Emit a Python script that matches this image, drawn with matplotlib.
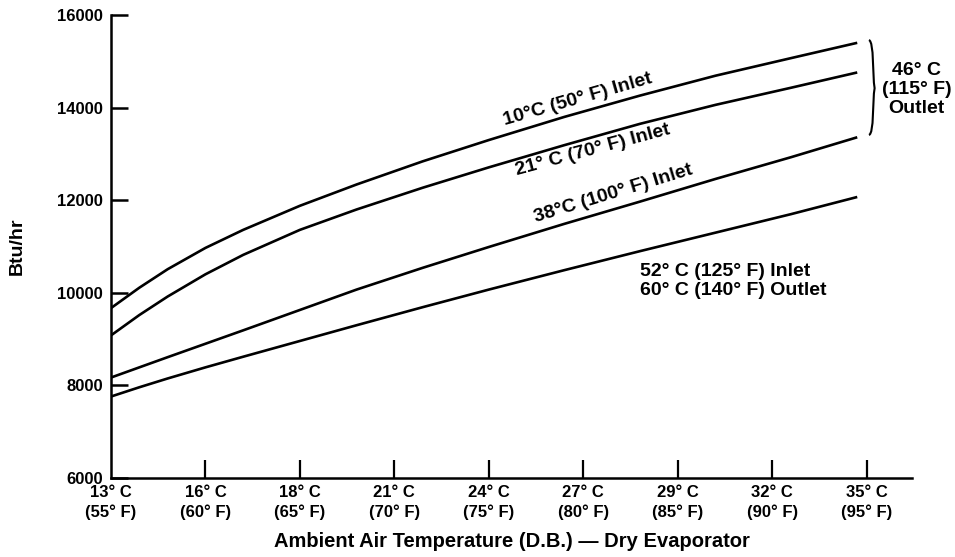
import matplotlib
matplotlib.use('Agg')
import matplotlib.pyplot as plt
from matplotlib.path import Path
import matplotlib.patches as mpatches

plt.rcParams['font.family'] = ['Liberation Sans', 'DejaVu Sans']
plt.rcParams['font.weight'] = 'bold'

# ambient temperature, deg F
temp_f = [55, 56.5, 58, 60, 62, 65, 68, 71.5, 75, 79, 83, 87, 91, 94.5]

# Btu/hr for each inlet condition
inlet_10c = [9670, 10110, 10510, 10970, 11360, 11880, 12340, 12840, 13300, 13800, 14260, 14690, 15070, 15400]
inlet_21c = [9080, 9520, 9920, 10400, 10820, 11360, 11800, 12270, 12710, 13190, 13650, 14060, 14430, 14760]
inlet_38c = [8170, 8390, 8610, 8900, 9190, 9630, 10070, 10540, 10990, 11490, 11970, 12460, 12930, 13360]
inlet_52c = [7760, 7960, 8150, 8390, 8620, 8960, 9300, 9690, 10070, 10490, 10900, 11300, 11700, 12070]

tick_f = [55, 60, 65, 70, 75, 80, 85, 90, 95]
tick_c = [13, 16, 18, 21, 24, 27, 29, 32, 35]
yticks = [6000, 8000, 10000, 12000, 14000, 16000]

fig = plt.figure(figsize=(9.55, 5.57), dpi=100)
ax = fig.add_axes([0.1162, 0.1418, 0.955 - 0.1162, 0.973 - 0.1418])

for ys in (inlet_10c, inlet_21c, inlet_38c, inlet_52c):
    ax.plot(temp_f, ys, color='black', lw=1.9, solid_capstyle='butt',
            solid_joinstyle='round')

ax.set_xlim(55, 97.4)
ax.set_ylim(6000, 16000)
ax.spines['top'].set_visible(False)
ax.spines['right'].set_visible(False)
ax.spines['left'].set_linewidth(1.8)
ax.spines['bottom'].set_linewidth(1.8)

ax.set_xticks(tick_f)
ax.set_xticklabels(['{}° C\n({}° F)'.format(c, f) for c, f in zip(tick_c, tick_f)],
                   fontsize=12, fontweight='bold', linespacing=1.35)
ax.set_yticks(yticks)
ax.set_yticklabels([str(v) for v in yticks], fontsize=12, fontweight='bold')
ax.tick_params(axis='x', direction='in', length=13, width=1.6, pad=5)
ax.tick_params(axis='y', direction='in', length=12, width=1.8, pad=6)
# no tick at the corner
ax.xaxis.get_major_ticks()[0].tick1line.set_visible(False)

ax.set_xlabel('Ambient Air Temperature (D.B.) — Dry Evaporator',
              fontsize=14.5, fontweight='bold', labelpad=9)
ax.set_ylabel('Btu/hr', fontsize=14, fontweight='bold', labelpad=22)

lab = dict(fontsize=14, fontweight='bold', ha='center', va='center',
           rotation_mode='anchor')
ax.text(79.7, 14180, '10°C (50° F) Inlet', rotation=16, **lab)
ax.text(80.5, 13085, '21° C (70° F) Inlet', rotation=15, **lab)
ax.text(81.6, 12150, '38°C (100° F) Inlet', rotation=17, **lab)
ax.text(83.0, 10250, '52° C (125° F) Inlet\n60° C (140° F) Outlet',
        fontsize=14, fontweight='bold', ha='left', va='center', linespacing=1.15)
ax.text(97.65, 14400, '46° C\n(115° F)\nOutlet', fontsize=14, fontweight='bold',
        ha='center', va='center', linespacing=1.15, clip_on=False)

# curly brace next to the 46 C outlet curves
verts = [(95.12, 15460), (95.40, 15420), (95.30, 14700), (95.42, 14420),
         (95.30, 14150), (95.40, 13440), (95.12, 13410)]
codes = [Path.MOVETO, Path.CURVE4, Path.CURVE4, Path.CURVE4,
         Path.CURVE4, Path.CURVE4, Path.CURVE4]
ax.add_patch(mpatches.PathPatch(Path(verts, codes), fill=False, lw=1.5,
                                color='black', clip_on=False))

fig.savefig('out.png', dpi=100)
